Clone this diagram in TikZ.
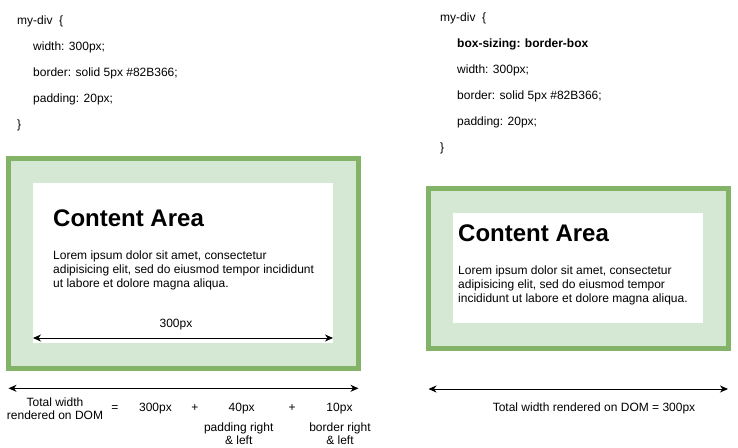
\documentclass[tikz,border=0pt]{standalone}
\usepackage{fontspec}
\setmainfont{Liberation Sans}
\usetikzlibrary{arrows.meta, positioning}
\usepackage{xcolor}
\definecolor{bordercolor}{HTML}{82B366}
\definecolor{paddingcolor}{HTML}{D5E8D4}

\begin{document}
\begin{tikzpicture}[x=1pt, y=-1pt]
  \tikzset{
    csstext/.style={
      anchor=base west,
      inner sep=0pt,
      font=\fontsize{12}{14}\selectfont
    },
    sumtext/.style={
      inner sep=0pt,
      align=center,
      font=\fontsize{12}{13.5}\selectfont
    },
    borderbox/.style={
      draw=bordercolor,
      line width=5pt,
      fill=paddingcolor,
      inner sep=0pt
    },
    contentbox/.style={
      fill=white,
      inner sep=0pt
    },
    heading/.style={
      anchor=base west,
      inner sep=0pt,
      font=\fontsize{24}{28}\selectfont\bfseries
    },
    bodytext/.style={
      anchor=north west,
      inner sep=0pt,
      align=left,
      font=\fontsize{12}{14}\selectfont
    },
    dimline/.style={
      line width=1pt,
      {Stealth[length=8pt,width=7pt,inset=2.5pt]}-{Stealth[length=8pt,width=7pt,inset=2.5pt]}
    }
  }
  \useasboundingbox (0,0) rectangle (738,447);

  % CSS of the left box
    \node[csstext] at (17, 24) (cssA0) {my-div\ \ \{};
    \node[csstext] at (33, 50) (cssA1) {width: 300px;};
    \node[csstext] at (33, 76) (cssA2) {border: solid 5px \#82B366;};
    \node[csstext] at (33, 102) (cssA3) {padding: 20px;};
    \node[csstext] at (17, 128) (cssA4) {\}};

  % CSS of the right box
    \node[csstext] at (440, 21) (cssB0) {my-div\ \ \{};
    \node[csstext, font=\fontsize{12}{14}\selectfont\bfseries] at (457, 47) (cssB1) {box-sizing: border-box};
    \node[csstext] at (457, 73) (cssB2) {width: 300px;};
    \node[csstext] at (457, 99) (cssB3) {border: solid 5px \#82B366;};
    \node[csstext] at (457, 125) (cssB4) {padding: 20px;};
    \node[csstext] at (440, 151) (cssB5) {\}};

  % Left box: content-box
    \node[borderbox, minimum width=350pt, minimum height=210pt] at (183.5, 263.5) (borderA) {};
    \node[contentbox, minimum width=300pt, minimum height=160pt] at (183.3, 263.3) (contentA) {};
    \node[heading] at (53, 226) (headA) {Content Area};
    \node[bodytext] at (53, 250.4) (bodyA) {Lorem ipsum dolor sit amet, consectetur\\
      adipisicing elit, sed do eiusmod tempor incididunt\\
      ut labore et dolore magna aliqua.};
    \coordinate (innerAl) at (33, 338);
    \coordinate (innerAr) at (333, 338);
    \draw[dimline] (innerAl) -- (innerAr);
    \node[csstext, anchor=base] at (176, 327.7) (widthA) {300px};

  % Right box: border-box
    \node[borderbox, minimum width=300pt, minimum height=160pt] at (578.5, 268.5) (borderB) {};
    \node[contentbox, minimum width=250pt, minimum height=110pt] at (578.3, 268.3) (contentB) {};
    \node[heading] at (458, 241) (headB) {Content Area};
    \node[bodytext] at (458, 265.4) (bodyB) {Lorem ipsum dolor sit amet, consectetur\\
      adipisicing elit, sed do eiusmod tempor\\
      incididunt ut labore et dolore magna aliqua.};

  % Total widths
    \coordinate (totalAl) at (8.5, 388.3);
    \coordinate (totalAr) at (358.5, 388.3);
    \draw[dimline] (totalAl) -- (totalAr);
    \node[sumtext, anchor=north] at (55, 397.4) (sumA0) {Total width\\rendered on DOM};
    \node[sumtext, anchor=base] at (115, 411.7) (sumA1) {=};
    \node[sumtext, anchor=base] at (155.5, 411.7) (sumA2) {300px};
    \node[sumtext, anchor=base] at (195, 411.7) (sumA3) {+};
    \node[sumtext, anchor=base] at (241.7, 411.7) (sumA4) {40px};
    \node[sumtext, anchor=base] at (292, 411.7) (sumA5) {+};
    \node[sumtext, anchor=base] at (339.5, 411.7) (sumA6) {10px};
    \node[sumtext, anchor=north] at (238.7, 422.1) (sumA7) {padding right\\\& left};
    \node[sumtext, anchor=north] at (340, 422.1) (sumA8) {border right\\\& left};

    \coordinate (totalBl) at (428.5, 389);
    \coordinate (totalBr) at (728, 389);
    \draw[dimline] (totalBl) -- (totalBr);
    \node[sumtext, anchor=base] at (594, 411.7) (sumB0) {Total width rendered on DOM = 300px};

\end{tikzpicture}
\end{document}
